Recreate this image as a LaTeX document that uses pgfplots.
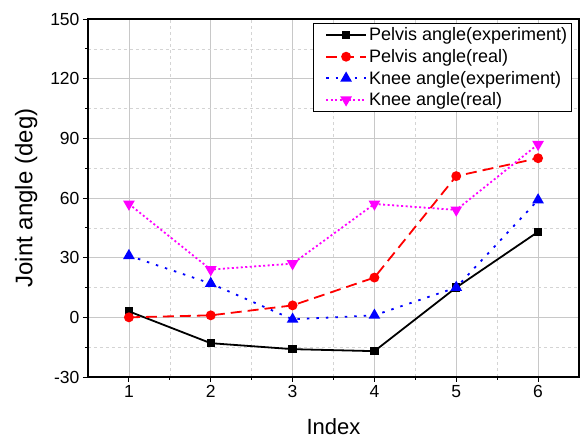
\documentclass[border=0pt]{standalone}
\usepackage{fontspec}
\setmainfont{Liberation Sans}
\usepackage{pgfplots}
\pgfplotsset{compat=1.18}
\definecolor{mgrid}{RGB}{200,200,200}
\definecolor{ngrid}{RGB}{212,212,212}
\definecolor{mag}{RGB}{255,0,255}
\definecolor{blu}{RGB}{0,0,255}
\definecolor{rd}{RGB}{255,0,0}
\begin{document}
\begin{tikzpicture}
\useasboundingbox (-88pt,-65pt) rectangle (494pt,377pt);
\begin{axis}[
  scale only axis,
  width=491pt, height=358pt,
  xmin=0.5, xmax=6.5, ymin=-30, ymax=150,
  xtick={1,2,3,4,5,6}, ytick={-30,0,30,60,90,120,150},
  minor x tick num=1, minor y tick num=1,
  tick pos=left,
  tick align=outside,
  major tick length=5pt, minor tick length=3pt,
  every tick/.style={black, line width=0.9pt},
  axis line style={line width=1.3pt},
  grid=both,
  major grid style={mgrid, line width=0.8pt},
  minor grid style={ngrid, dashed, line width=0.6pt},
  ticklabel style={font=\fontsize{17.5}{20}\selectfont},
  /pgf/number format/assume math mode=true,
  xlabel={Index}, ylabel={Joint angle (deg)},
  xlabel style={font=\fontsize{22}{24}\selectfont, yshift=-14pt},
  ylabel style={font=\fontsize{24}{26}\selectfont, yshift=6pt},
  legend style={at={(1,1)}, xshift=-7pt, yshift=-4pt, anchor=north east,
    draw=black, line width=0.8pt, font=\fontsize{18}{20}\selectfont,
    row sep=3pt, inner sep=2.5pt},
  legend cell align=left,
  legend image code/.code={
    \path (-9pt,0pt);
    \draw[mark repeat=2,mark phase=2,#1] plot coordinates {(0pt,0pt) (20pt,0pt) (40pt,0pt)};
  },
]
\addplot[black, line width=1.8pt, mark=square*, mark size=3.2pt, mark options={solid}]
  coordinates {(1,3) (2,-13) (3,-16) (4,-17) (5,15) (6,43)};
\addlegendentry{Pelvis angle(experiment)}
\addplot[rd, line width=1.8pt, dash pattern=on 11pt off 6pt, mark=*, mark size=4pt, mark options={solid}]
  coordinates {(1,0) (2,1) (3,6) (4,20) (5,71) (6,80)};
\addlegendentry{Pelvis angle(real)}
\addplot[blu, line width=1.8pt, dash pattern=on 2.5pt off 7pt, mark=triangle*, mark size=5pt, mark options={solid}]
  coordinates {(1,31) (2,17) (3,-1) (4,1) (5,15) (6,59)};
\addlegendentry{Knee angle(experiment)}
\addplot[mag, line width=1.8pt, dash pattern=on 2pt off 2.5pt, mark=triangle*, mark size=5pt, mark options={solid, rotate=180}]
  coordinates {(1,57) (2,24) (3,27) (4,57) (5,54) (6,87)};
\addlegendentry{Knee angle(real)}
\end{axis}
\end{tikzpicture}
\end{document}
